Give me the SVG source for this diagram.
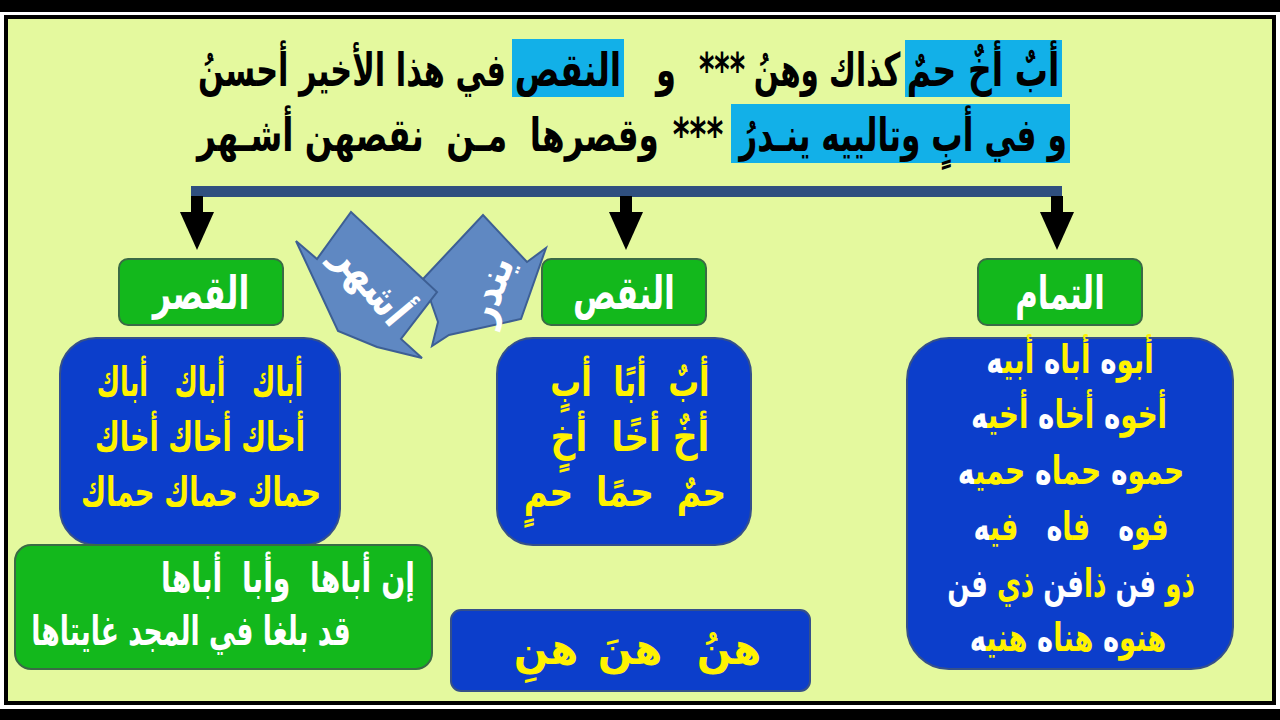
<svg xmlns="http://www.w3.org/2000/svg" width="1280" height="720" viewBox="0 0 1280 720">
<defs>
<style>
.ar{font-family:"DejaVu Sans","Noto Sans",sans-serif;font-weight:bold;text-anchor:middle;}
.k{fill:#000}
.w{fill:#fff}
.y{fill:#FFF200}
.hl{fill:#12B0E8}
.green{fill:#13B81C;stroke:#3A6B45;stroke-width:2}
.blue{fill:#0C3ECB;stroke:#35508A;stroke-width:2}
.callout{fill:#5F88C2;stroke:#3D5F94;stroke-width:2}
.stem{stroke:#000;stroke-width:12;fill:none}
</style>
<marker id="head" markerUnits="userSpaceOnUse" markerWidth="38" markerHeight="34" viewBox="0 0 38 34" refX="0" refY="17" orient="auto">
<path d="M0,0 L38,17 L0,34 Z" fill="#000"/>
</marker>
</defs>

<g id="frame">
<rect x="0" y="0" width="1280" height="720" fill="#fff"/>
<rect x="0" y="0" width="1280" height="12" fill="#000"/>
<rect x="0" y="709" width="1280" height="11" fill="#000"/>
<rect x="6" y="17" width="1268" height="686" fill="#E4F99E" stroke="#000" stroke-width="4"/>
</g>

<g id="verse">
<rect class="hl" x="905" y="40" width="157" height="57"/>
<rect class="hl" x="512" y="39" width="112" height="58"/>
<rect class="hl" x="731" y="104" width="339" height="59"/>
<g class="ar k" font-size="46">
<text transform="translate(983,86) scale(0.72,1)">أبٌ أخٌ حمٌ</text>
<text transform="translate(827,86) scale(0.64,1)">كذاك وهنُ</text>
<text transform="translate(722,86) scale(0.64,1)">***</text>
<text transform="translate(666,86) scale(0.7,1)">و</text>
<text transform="translate(568,86) scale(0.72,1)">النقص</text>
<text transform="translate(352,86) scale(0.66,1)">في هذا الأخير أحسنُ</text>
<text transform="translate(903,151) scale(0.68,1)">و في أبٍ وتالييه ينـدرُ</text>
<text transform="translate(698,151) scale(0.7,1)">***</text>
<text transform="translate(428,151) scale(0.71,1)">وقصرها&#160;&#160;مـن&#160;&#160;نقصهن&#160;أشـهر</text>
</g>
</g>

<g id="connectors">
<rect x="191" y="186" width="871" height="11" fill="#2F4F7F"/>
<path class="stem" d="M197,196 L197,212" marker-end="url(#head)"/>
<path class="stem" d="M626,196 L626,212" marker-end="url(#head)"/>
<path class="stem" d="M1057,196 L1057,212" marker-end="url(#head)"/>
</g>

<g id="node-qasr">
<rect class="green" x="119" y="259" width="164" height="66" rx="9"/>
<text class="ar w" font-size="46" transform="translate(201,309) scale(0.69,1)">القصر</text>
</g>
<g id="node-naqs">
<rect class="green" x="542" y="259" width="164" height="66" rx="9"/>
<text class="ar w" font-size="46" transform="translate(624,309) scale(0.69,1)">النقص</text>
</g>
<g id="node-tamam">
<rect class="green" x="978" y="259" width="164" height="66" rx="9"/>
<text class="ar w" font-size="46" transform="translate(1060,309) scale(0.67,1)">التمام</text>
</g>

<g id="callout-yandur">
<polygon class="callout" points="423,279 483,215 527,262 546,248 521,319 449,335 432,346 438,322"/>
<text class="ar w" font-size="42" dominant-baseline="central" transform="translate(489,290) rotate(-70) scale(0.85,1)">يندر</text>
</g>
<g id="callout-ashhar">
<polygon class="callout" points="296,241 317,259 351,212 437,292 401,339 422,358 377,347 338,331"/>
<text class="ar w" font-size="42" dominant-baseline="central" transform="translate(372,284) rotate(50) scale(0.85,1)">أشهر</text>
</g>

<g id="box-qasr">
<rect class="blue" x="60" y="338" width="280" height="207" rx="36"/>
<g class="ar y" font-size="41">
<text transform="translate(200,396) scale(0.62,1)">أباك&#160;&#160;&#160;أباك&#160;&#160;&#160;أباك</text>
<text transform="translate(200,451) scale(0.66,1)">أخاك أخاك أخاك</text>
<text transform="translate(201,506) scale(0.67,1)">حماك حماك حماك</text>
</g>
</g>

<g id="box-naqs">
<rect class="blue" x="497" y="338" width="254" height="207" rx="36"/>
<g class="ar y" font-size="41">
<text transform="translate(630,396) scale(0.75,1)">أبٌ&#160;&#160;أبًا&#160;&#160;أبٍ</text>
<text transform="translate(630,451) scale(0.84,1)">أخٌ&#160;أخًا&#160;&#160;أخٍ</text>
<text transform="translate(625,506) scale(0.8,1)">حمٌ&#160;&#160;حمًا&#160;&#160;حمٍ</text>
</g>
</g>

<g id="box-tamam">
<rect class="blue" x="907" y="338" width="326" height="331" rx="42"/>
<g class="ar" font-size="39">
<text transform="translate(1070,373) scale(0.71,1)"><tspan class="y">أبو</tspan><tspan class="w">ه</tspan> <tspan class="y">أبا</tspan><tspan class="w">ه</tspan> <tspan class="y">أبي&#x200D;</tspan><tspan class="w">&#x200D;ه</tspan></text>
<text transform="translate(1069,428) scale(0.71,1)"><tspan class="y">أخو</tspan><tspan class="w">ه</tspan> <tspan class="y">أخا</tspan><tspan class="w">ه</tspan> <tspan class="y">أخي&#x200D;</tspan><tspan class="w">&#x200D;ه</tspan></text>
<text transform="translate(1071,484) scale(0.72,1)"><tspan class="y">حمو</tspan><tspan class="w">ه</tspan> <tspan class="y">حما</tspan><tspan class="w">ه</tspan> <tspan class="y">حمي&#x200D;</tspan><tspan class="w">&#x200D;ه</tspan></text>
<text transform="translate(1071,540) scale(0.69,1)"><tspan class="y">فو</tspan><tspan class="w">ه</tspan>&#160;&#160;&#160;<tspan class="y">فا</tspan><tspan class="w">ه</tspan>&#160;&#160;&#160;<tspan class="y">في&#x200D;</tspan><tspan class="w">&#x200D;ه</tspan></text>
<text transform="translate(1071,597) scale(0.67,1)"><tspan class="y">ذو</tspan> <tspan class="w">فن</tspan> <tspan class="y">ذا</tspan><tspan class="w">فن</tspan> <tspan class="y">ذي</tspan> <tspan class="w">فن</tspan></text>
<text transform="translate(1068,651) scale(0.7,1)"><tspan class="y">هنو</tspan><tspan class="w">ه</tspan> <tspan class="y">هنا</tspan><tspan class="w">ه</tspan> <tspan class="y">هني&#x200D;</tspan><tspan class="w">&#x200D;ه</tspan></text>
</g>
</g>

<g id="box-shahid">
<rect class="green" x="15" y="545" width="417" height="124" rx="16"/>
<g class="ar w" font-size="41">
<text transform="translate(288,592) scale(0.69,1)">إن أباها&#160;&#160;وأبا&#160;&#160;أباها</text>
<text transform="translate(191,645) scale(0.65,1)">قد بلغا في المجد غايتاها</text>
</g>
</g>

<g id="box-han">
<rect class="blue" x="451" y="610" width="359" height="81" rx="10"/>
<g class="ar y" font-size="44">
<text transform="translate(729,664) scale(0.92,1)">هنُ</text>
<text transform="translate(630,664) scale(0.92,1)">هنَ</text>
<text transform="translate(546,664) scale(0.92,1)">هنِ</text>
</g>
</g>
</svg>
